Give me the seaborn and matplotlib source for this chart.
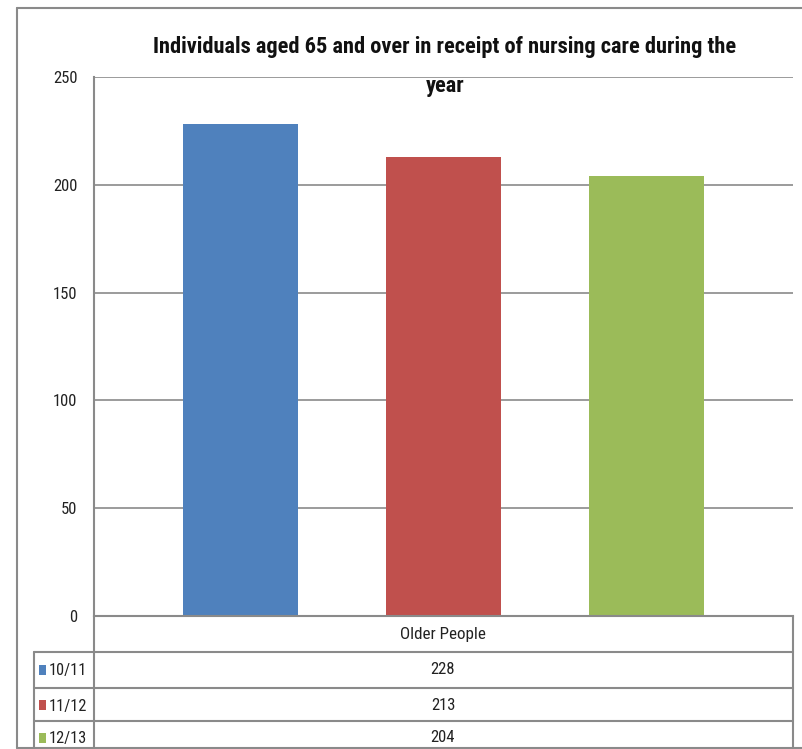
import matplotlib
matplotlib.use("Agg")
import matplotlib.pyplot as plt
from matplotlib.lines import Line2D
from matplotlib.patches import Rectangle
from matplotlib import font_manager
import seaborn as sns
import pandas as pd

# ---- data ----
category = "Older People"
periods = ["10/11", "11/12", "12/13"]
values = [228, 213, 204]
colors = ["#4F81BD", "#C0504D", "#9BBB59"]
title_lines = ["Individuals aged 65 and over in receipt of nursing care during the", "year"]
yticks = [0, 50, 100, 150, 200, 250]

sns.set_theme(style="white")

# choose a narrow font if one is installed
names = {f.name for f in font_manager.fontManager.ttflist}
stretches = {(f.name, f.stretch) for f in font_manager.fontManager.ttflist}
family = None
stretch = "normal"
for cand in ["Liberation Sans Narrow", "Roboto Condensed", "Open Sans Condensed", "Noto Sans Condensed"]:
    if cand in names:
        family = cand
        break
if family is None:
    if any(n == "DejaVu Sans" and s in ("condensed", 500, "semi-condensed") for n, s in stretches) or \
       any(n == "DejaVu Sans" and isinstance(s, int) and s < 500 for n, s in stretches):
        family = "DejaVu Sans"
        stretch = "condensed"
    else:
        family = "Liberation Sans"
plt.rcParams["font.family"] = [family, "DejaVu Sans"]
plt.rcParams["font.stretch"] = stretch

W, H = 802, 749
fig = plt.figure(figsize=(W / 100, H / 100), dpi=100)
fig.patch.set_facecolor("white")
renderer = fig.canvas.get_renderer()

def fx(x):
    return x / W

def fy(y):
    return 1 - y / H

def fit(t, target_px):
    bb = t.get_window_extent(renderer=renderer)
    t.set_fontsize(t.get_fontsize() * target_px / bb.width)

ax_l, ax_r, ax_t, ax_b = 94, 793, 77, 616
ax = fig.add_axes([fx(ax_l), fy(ax_b), (ax_r - ax_l) / W, (ax_b - ax_t) / H])

df = pd.DataFrame({"category": [category] * len(periods), "period": periods, "value": values})
sns.barplot(data=df, x="category", y="value", hue="period", palette=colors,
            width=0.873, gap=0.435, dodge=True, saturation=1, ax=ax,
            legend=False, edgecolor="none", linewidth=0)

ax.set_xlim(-0.5, 0.5)
ax.set_ylim(0, 250)
ax.set_yticks(yticks)
ax.set_yticklabels([str(t) for t in yticks], fontsize=12, color="#222222")
ax.tick_params(axis="y", length=0, pad=12)
ax.set_xticks([])
ax.set_xlabel("")
ax.set_ylabel("")
ax.yaxis.grid(True, color="#8A8A8A", linewidth=1.2)
ax.set_axisbelow(True)
for s in ["top", "right"]:
    ax.spines[s].set_visible(False)
for s in ["left", "bottom"]:
    ax.spines[s].set_color("#8A8A8A")
    ax.spines[s].set_linewidth(1.5)

lc = "#8A8A8A"

def hline(y, x0, x1, lw=1.5):
    fig.add_artist(Line2D([fx(x0), fx(x1)], [fy(y), fy(y)], color=lc, linewidth=lw))

def vline(x, y0, y1, lw=1.5):
    fig.add_artist(Line2D([fx(x), fx(x)], [fy(y0), fy(y1)], color=lc, linewidth=lw))

# outer chart frame
vline(17, 8, 748)
hline(8, 17, 802)
hline(748, 17, 802)

# data table
for y in [652, 688, 721]:
    hline(y, 34, 793)
vline(94, 616, 749)
vline(793, 616, 749)
vline(34, 652, 749)

t = fig.text(fx(443), fy(634), category, ha="center", va="center", fontsize=12, color="#222222")
fit(t, 86)
row_centers = [670, 705, 738]
for p, v, c, yc in zip(periods, values, colors, row_centers):
    fig.text(fx(443), fy(yc), str(v), ha="center", va="center", fontsize=12, color="#222222")
    fig.add_artist(Rectangle((fx(39), fy(yc + 5)), 7 / W, 10 / H, facecolor=c, edgecolor="none"))
    t = fig.text(fx(49), fy(yc + 1), p, ha="left", va="center", fontsize=13, color="#222222")
    fit(t, 38)

t1 = fig.text(fx(445), fy(47), title_lines[0], ha="center", va="center",
              fontsize=17, fontweight="bold", color="#111111")
fit(t1, 584)
fig.text(fx(445), fy(86), title_lines[1], ha="center", va="center",
         fontsize=t1.get_fontsize(), fontweight="bold", color="#111111")

fig.savefig("out.png", dpi=100)
